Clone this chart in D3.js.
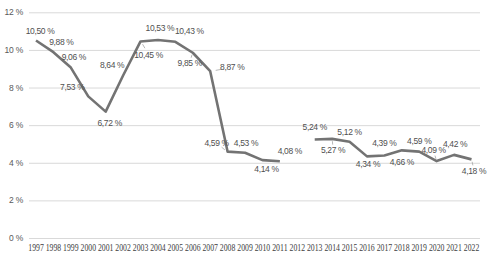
<!DOCTYPE html>
<html><head><meta charset="utf-8">
<script src="https://cdn.jsdelivr.net/npm/d3@7"></script>
<style>
html,body{margin:0;padding:0;background:#fff;}
svg{display:block;}
</style></head>
<body>
<svg id="chart" width="492" height="262"></svg>
<script>
const years = ["1997","1998","1999","2000","2001","2002","2003","2004","2005","2006","2007","2008","2009","2010","2011","2012","2013","2014","2015","2016","2017","2018","2019","2020","2021","2022"];
const values = [10.50,9.88,9.06,7.53,6.72,8.64,10.45,10.53,10.43,9.85,8.87,4.59,4.53,4.14,4.08,null,5.24,5.27,5.12,4.34,4.39,4.66,4.59,4.09,4.42,4.18];
const yTicks = [0,2,4,6,8,10,12];
// label offsets relative to each point (dx, dy)
const labelDx = [4,8,3,-16,4,-11,8,2,14,-3,22,-11,1,4,10,0,0,1,0,1,0,0,0,-3,1,2.5];
const labelDy = [-9.5,-10,-11,-9,11,-10,13.5,-12,-11,10,-4,-9,-10,9,-10,0,-12,11.5,-10,8,-12,12,-11,-11,-11,12];
const leaders = [6,9,10,11,17,23,25];

const svg = d3.select("#chart");
const x = d3.scalePoint().domain(years).range([36,471.5]);
const y = d3.scaleLinear().domain([0,12]).range([238,12.3]);

const fmt = v => v.toFixed(2).replace(".", ",") + " %";

// gridlines
svg.append("g").selectAll("line").data(yTicks).join("line")
  .attr("x1",29).attr("x2",480)
  .attr("y1",d=>y(d)+0.5).attr("y2",d=>y(d)+0.5)
  .attr("stroke","#d9d9d9").attr("stroke-width",1);

// y labels
svg.append("g").selectAll("text").data(yTicks).join("text")
  .attr("x",23).attr("y",d=>y(d)+3)
  .attr("text-anchor","end")
  .attr("font-family","'Liberation Sans',sans-serif")
  .attr("font-size","8.5px").attr("letter-spacing","-0.2px").attr("fill","#595959")
  .text(d=>d+" %");

// x labels
svg.append("g").selectAll("text").data(years).join("text")
  .attr("x",d=>x(d)).attr("y",251)
  .attr("text-anchor","middle")
  .attr("font-family","'Liberation Serif',serif")
  .attr("font-size","9.5px").attr("fill","#404040")
  .attr("textLength",15.5).attr("lengthAdjust","spacingAndGlyphs")
  .text(d=>d);

const data = years.map((yr,i)=>({yr, v: values[i], i}));

// line
const line = d3.line().defined(d=>d.v!=null).x(d=>x(d.yr)).y(d=>y(d.v));
svg.append("path").datum(data).attr("d",line)
  .attr("fill","none").attr("stroke","#737373").attr("stroke-width",2.6)
  .attr("stroke-linejoin","round");

// leader lines
svg.append("g").selectAll("line").data(data.filter(d=>leaders.includes(d.i))).join("line")
  .attr("x1",d=>x(d.yr)+labelDx[d.i]*0.25).attr("y1",d=>y(d.v)+labelDy[d.i]*0.2)
  .attr("x2",d=>x(d.yr)+labelDx[d.i]*0.55).attr("y2",d=>y(d.v)+labelDy[d.i]*0.5)
  .attr("stroke","#a6a6a6").attr("stroke-width",0.8);

// data labels
svg.append("g").selectAll("text").data(data.filter(d=>d.v!=null)).join("text")
  .attr("x",d=>x(d.yr)+labelDx[d.i]).attr("y",d=>y(d.v)+labelDy[d.i]+3)
  .attr("text-anchor","middle")
  .attr("font-family","'Liberation Sans',sans-serif")
  .attr("font-size","8.5px").attr("letter-spacing","-0.35px").attr("fill","#505050")
  .text(d=>fmt(d.v));
</script>
</body></html>
